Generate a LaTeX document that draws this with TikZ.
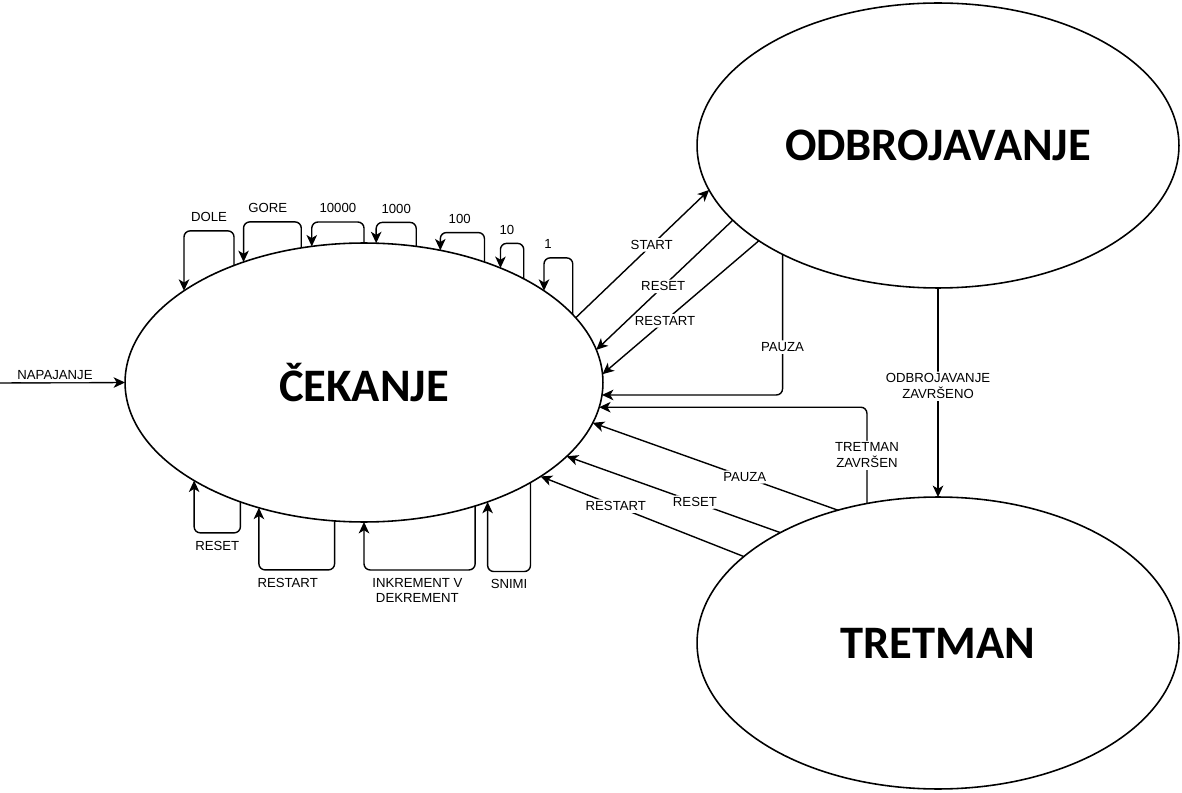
\documentclass[tikz,border=0pt]{standalone}
\usepackage{fontspec}
\setmainfont{Liberation Sans}
\newfontfamily\statefont{Carlito}
\usetikzlibrary{arrows.meta,positioning,shapes.geometric}
\tikzset{
stnode/.style={ellipse,draw,line width=0.9pt,inner sep=0pt,outer sep=0pt,font=\statefont\bfseries\fontsize{26.5}{30}\selectfont},
starr/.style={-{Stealth[length=6.5pt,width=6pt,inset=1.8pt]},line width=0.8pt,rounded corners=3.5pt},
stloop/.style={starr},
stlabel/.style={fill=white,inner sep=1.2pt,align=center},
stloopup/.style={stlabel,above=3.5pt},
stloopdown/.style={stlabel,below=3pt}
}
\begin{document}
\begin{tikzpicture}[
x=0.02cm,
y=-0.02cm,
every node/.style={font=\fontsize{7.5}{9}\selectfont}
]
\useasboundingbox (0,0) rectangle (1182,793);
% states
\node[stnode,minimum width=9.56cm,minimum height=5.58cm] (cekanje) at (364,382.5) {ČEKANJE};
\node[stnode,minimum width=9.64cm,minimum height=5.70cm] (odbroj) at (938,145.5) {ODBROJAVANJE};
\node[stnode,minimum width=9.64cm,minimum height=5.84cm] (tretman) at (938,643) {TRETMAN};
\coordinate (power) at (0,383);
% power on
\draw[starr] (power)--node[stlabel,above,pos=0.44]{NAPAJANJE}(cekanje.west);
% self loops, top
\draw[stloop] (cekanje.138.9)--++(0,-34.6)-|node[stloopup,pos=0.25]{DOLE}(cekanje.153);
\draw[stloop] (cekanje.115.5)--++(0,-26)-|node[stloopup,pos=0.29]{GORE}(cekanje.135.2);
\draw[stloop] (cekanje.90)--++(0,-21)-|node[stloopup,pos=0.25]{10000}(cekanje.111.3);
\draw[stloop] (cekanje.69.1)--++(0,-24)-|node[stloopup,pos=0.25]{1000}(cekanje.85.9);
\draw[stloop] (cekanje.45.5)--++(0,-29.5)-|node[stloopup,pos=0.28]{100}(cekanje.60.5);
\draw[stloop] (cekanje.33.2)--++(0,-35.4)-|node[stloopup,pos=0.36]{10}(cekanje.40.8);
\draw[stloop] (cekanje.18.9)--++(0,-56.8)-|node[stloopup,pos=0.43]{1}(cekanje.27.9);
% self loops, bottom
\draw[stloop] (cekanje.224.8)--++(0,31)-|node[stloopdown,pos=0.25]{RESET}(cekanje.210.3);
\draw[stloop] (cekanje.258.6)--++(0,49)-|node[stloopdown,pos=0.31]{RESTART}(cekanje.230.4);
\draw[stloop] (cekanje.312)--++(0,64)-|node[stloopdown,pos=0.26]{INKREMENT V\\DEKREMENT}(cekanje.270);
\draw[stloop] (cekanje.329.7)--++(0,89)-|node[stloopdown,pos=0.25]{SNIMI}(cekanje.316.4);
% odbrojavanje
\draw[starr] (cekanje.17.1)--node[stlabel,pos=0.57]{START}(odbroj.191.4);
\draw[starr] (odbroj.200.6)--node[stlabel,pos=0.51]{RESET}(cekanje.8.7);
\draw[starr] (odbroj.208.9)--node[stlabel,pos=0.6]{RESTART}(cekanje.2);
\draw[starr] (odbroj.215)|-node[stlabel,pos=0.33]{PAUZA}(cekanje.357.7);
\draw[starr] (odbroj.south)--node[stlabel,pos=0.47]{ODBROJAVANJE\\ZAVRŠENO}(tretman.north);
% tretman
\draw[starr] (tretman.117.9)|-node[stlabel,pos=0.25]{TRETMAN\\ZAVRŠEN}(cekanje.354.9);
\draw[starr] (tretman.127.8)--node[stlabel,pos=0.38]{PAUZA}(cekanje.350.4);
\draw[starr] (tretman.145.6)--node[stlabel,pos=0.40]{RESET}(cekanje.340.9);
\draw[starr] (tretman.156.8)--node[stlabel,pos=0.63]{RESTART}(cekanje.332);
\end{tikzpicture}
\end{document}
